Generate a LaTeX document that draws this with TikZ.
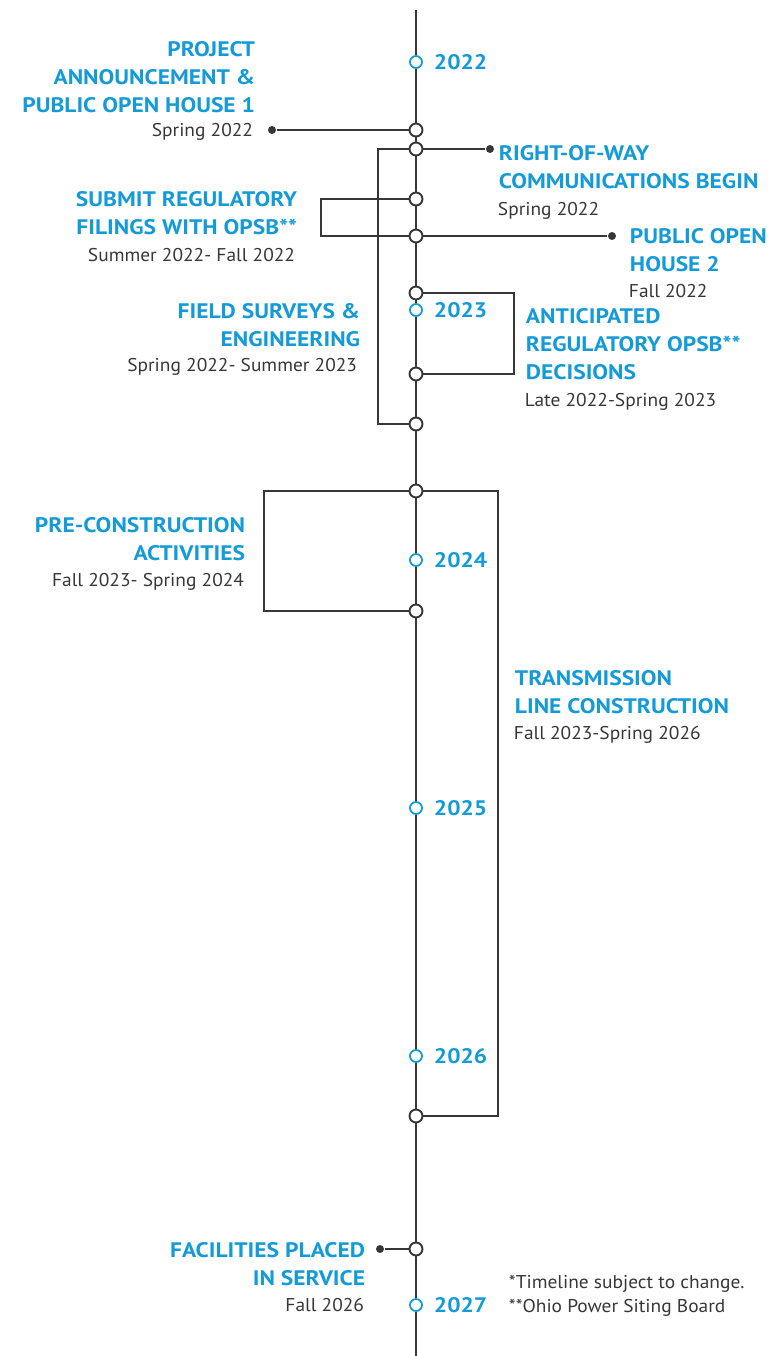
\documentclass[tikz,border=0pt]{standalone}
\usepackage{fontspec}
\setmainfont{PT Sans}
\newfontfamily\ttlfont[FakeStretch=1.12]{PT Sans}
\newfontfamily\dtfont[FakeStretch=1.05]{PT Sans}
\definecolor{tblue}{RGB}{20,155,215}
\definecolor{tgray}{RGB}{55,55,55}
\begin{document}
\begin{tikzpicture}[x=1pt,y=-1pt,line width=1.9pt,draw=tgray,
  ev/.style={circle,draw=tgray,fill=white,minimum size=13pt,inner sep=0pt,line width=1.9pt},
  yr/.style={circle,draw=tblue,fill=white,minimum size=12pt,inner sep=0pt,line width=1.8pt},
  pin/.style={circle,fill=tgray,minimum size=8pt,inner sep=0pt},
  ttlR/.style={text=tblue,font=\ttlfont\bfseries\fontsize{21}{28}\selectfont,inner sep=0pt,align=right,anchor=north east},
  ttlL/.style={text=tblue,font=\ttlfont\bfseries\fontsize{21}{28}\selectfont,inner sep=0pt,align=left,anchor=north west},
  dtR/.style={text=tgray,font=\dtfont\fontsize{18.5}{24}\selectfont,inner sep=0pt,anchor=base east},
  dtL/.style={text=tgray,font=\dtfont\fontsize{18.5}{24}\selectfont,inner sep=0pt,anchor=base west,align=left},
  yrl/.style={text=tblue,font=\ttlfont\bfseries\fontsize{21}{21}\selectfont,inner sep=0pt,anchor=base west}]
\useasboundingbox (0,0) rectangle (773,1356);
% main axis
\coordinate (top) at (416,10);
\coordinate (bot) at (416,1356);
\draw (top) -- (bot);
% bracket columns
\coordinate (xrow) at (378,0);
\coordinate (xsub) at (321,0);
\coordinate (xant) at (514,0);
\coordinate (xpre) at (264,0);
\coordinate (xtra) at (498,0);
% pins
\node[pin] (d1) at (272,130) {};
\node[pin] (d2) at (490,149) {};
\node[pin] (d4) at (612,236) {};
\node[pin] (d11) at (380,1249) {};
% connectors
\draw (d1) -- (416,130);
\draw (416,149) -- (d2);
\draw (416,236) -- (d4);
\draw (d11) -- (416,1249);
\draw (416,149) -- (xrow |- 416,149) -- (xrow |- 416,424) -- (416,424);
\draw (416,199) -- (xsub |- 416,199) -- (xsub |- 416,236) -- (416,236);
\draw (416,293) -- (xant |- 416,293) -- (xant |- 416,374) -- (416,374);
\draw (416,491) -- (xpre |- 416,491) -- (xpre |- 416,611) -- (416,611);
\draw (416,491) -- (xtra |- 416,491) -- (xtra |- 416,1116) -- (416,1116);
% event circles
\node[ev] (e1) at (416,130) {};
\node[ev] (e2) at (416,149) {};
\node[ev] (e3) at (416,199) {};
\node[ev] (e4) at (416,236) {};
\node[ev] (e5) at (416,293) {};
\node[ev] (e6) at (416,374) {};
\node[ev] (e7) at (416,424) {};
\node[ev] (e8) at (416,491) {};
\node[ev] (e9) at (416,611) {};
\node[ev] (e10) at (416,1116) {};
\node[ev] (e11) at (416,1249) {};
% years
\node[yr] (y1) at (416,62) {};
\node[yr] (y2) at (416,310) {};
\node[yr] (y3) at (416,560) {};
\node[yr] (y4) at (416,808) {};
\node[yr] (y5) at (416,1056) {};
\node[yr] (y6) at (416,1305) {};
\node[yrl] (l1) at (433,69.5) {2022};
\node[yrl] (l2) at (433,317.5) {2023};
\node[yrl] (l3) at (433,567.5) {2024};
\node[yrl] (l4) at (433,815.5) {2025};
\node[yrl] (l5) at (433,1063.5) {2026};
\node[yrl] (l6) at (433,1312.5) {2027};
% titles
\node[ttlR] (tA) at (256,40.5) {PROJECT\\ANNOUNCEMENT \&\\PUBLIC OPEN HOUSE 1};
\node[dtR] (sA) at (254,136.5) {Spring 2022};
\node[ttlL] (tB) at (498,144.5) {RIGHT-OF-WAY\\COMMUNICATIONS BEGIN};
\node[dtL] (sB) at (497,215.5) {Spring 2022};
\node[ttlR] (tC) at (298,190.5) {SUBMIT REGULATORY\\FILINGS WITH OPSB**};
\node[dtR] (sC) at (296,261.5) {Summer 2022- Fall 2022};
\node[ttlL] (tD) at (629,227.5) {PUBLIC OPEN\\HOUSE 2};
\node[dtL] (sD) at (628,297.5) {Fall 2022};
\node[ttlR] (tE) at (361,302.5) {FIELD SURVEYS \&\\ENGINEERING};
\node[dtR] (sE) at (358,371.5) {Spring 2022- Summer 2023};
\node[ttlL] (tF) at (525,307.5) {ANTICIPATED\\REGULATORY OPSB**\\DECISIONS};
\node[dtL] (sF) at (524,406.5) {Late 2022-Spring 2023};
\node[ttlR] (tG) at (246,516.5) {PRE-CONSTRUCTION\\ACTIVITIES};
\node[dtR] (sG) at (245,586.5) {Fall 2023- Spring 2024};
\node[ttlL] (tH) at (514,669.5) {TRANSMISSION\\LINE CONSTRUCTION};
\node[dtL] (sH) at (513,739.5) {Fall 2023-Spring 2026};
\node[ttlR] (tI) at (366,1241.5) {FACILITIES PLACED\\IN SERVICE};
\node[dtR] (sI) at (365,1311.5) {Fall 2026};
\node[dtL] (fn) at (508,1312.5) {*Timeline subject to change.\\**Ohio Power Siting Board};
\end{tikzpicture}
\end{document}
